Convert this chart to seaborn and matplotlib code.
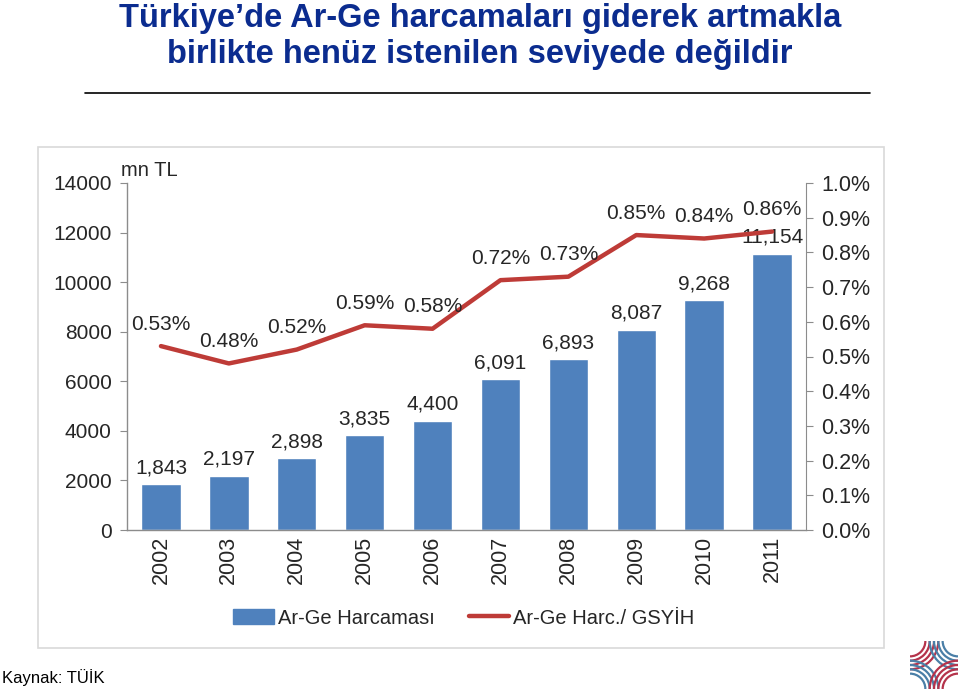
import numpy as np
import pandas as pd
import matplotlib
matplotlib.use("Agg")
import matplotlib.pyplot as plt
from matplotlib.patches import Arc, Rectangle
from matplotlib.lines import Line2D
import seaborn as sns

years = ["2002", "2003", "2004", "2005", "2006", "2007", "2008", "2009", "2010", "2011"]
spending = [1843, 2197, 2898, 3835, 4400, 6091, 6893, 8087, 9268, 11154]
spending_labels = ["1,843", "2,197", "2,898", "3,835", "4,400", "6,091", "6,893", "8,087", "9,268", "11,154"]
ratio = [0.53, 0.48, 0.52, 0.59, 0.58, 0.72, 0.73, 0.85, 0.84, 0.86]
left_ticks = [0, 2000, 4000, 6000, 8000, 10000, 12000, 14000]
right_ticks = [0.0, 0.1, 0.2, 0.3, 0.4, 0.5, 0.6, 0.7, 0.8, 0.9, 1.0]

sns.set_style("white")
plt.rcParams['font.family'] = ['Liberation Sans', 'DejaVu Sans']

BAR = "#4F81BD"
LINE = "#BE3B37"
TXT = "#262626"
GRAY = "#8C8C8C"
FS = 15

fig = plt.figure(figsize=(9.6, 6.9), dpi=100)

# title
fig.text(0.5, 1 - 18 / 690, "Türkiye’de Ar-Ge harcamaları giderek artmakla", ha="center", va="center",
         fontsize=23.5, fontweight="bold", color="#0B2C8F")
fig.text(0.5, 1 - 54 / 690, "birlikte henüz istenilen seviyede değildir", ha="center", va="center",
         fontsize=23.5, fontweight="bold", color="#0B2C8F")
fig.add_artist(Line2D([85 / 960, 870 / 960], [1 - 93 / 690, 1 - 93 / 690], color="black", lw=1.2))

# panel border
fig.add_artist(Rectangle((38 / 960, 1 - 648 / 690), (884 - 38) / 960, (648 - 147) / 690,
                         transform=fig.transFigure, fill=False, ec="#D9D9D9", lw=1.2))

ax = fig.add_axes([127 / 960, 1 - 530 / 690, (806 - 127) / 960, (530 - 183) / 690])
df = pd.DataFrame({"year": years, "spending": spending})
sns.barplot(data=df, x="year", y="spending", color=BAR, saturation=1, width=0.58, ax=ax, zorder=2)
ax.set_xlim(-0.5, 9.5)
ax.set_ylim(0, 14000)
ax.set_yticks(left_ticks)
ax.set_yticklabels([str(v) for v in left_ticks], fontsize=FS, color=TXT)
ax.set_xticks(range(len(years)))
ax.set_xticklabels(years, rotation=90, fontsize=15.5, color=TXT)
ax.tick_params(axis="x", length=0, pad=4)
ax.set_xticks(np.arange(-0.5, 10.5, 1), minor=True)
ax.tick_params(axis="x", which="minor", length=5, color=GRAY, direction="out")
ax.tick_params(axis="y", length=5, color=GRAY, direction="out", pad=6, left=True)
ax.set_xlabel("")
ax.set_ylabel("")
for s in ["top", "right"]:
    ax.spines[s].set_visible(False)
for s in ["left", "bottom"]:
    ax.spines[s].set_color(GRAY)
    ax.spines[s].set_linewidth(1)
for i, (v, lab) in enumerate(zip(spending, spending_labels)):
    ax.annotate(lab, (i, v), xytext=(0, 5), textcoords="offset points", ha="center", va="bottom",
                fontsize=FS, color=TXT, zorder=5)
fig.text(121 / 960, 1 - 171 / 690, "mn TL", ha="left", va="center", fontsize=14.5, color=TXT)

ax2 = ax.twinx()
sns.lineplot(x=np.arange(len(years)), y=ratio, color=LINE, lw=3.2, ax=ax2, zorder=4)
ax2.set_ylim(0, 1.0)
ax2.set_yticks(right_ticks)
ax2.set_yticklabels([f"{v:.1f}%" for v in right_ticks], fontsize=15.5, color=TXT)
ax2.tick_params(axis="y", length=5, color=GRAY, direction="out", pad=6, right=True)
for s in ["top", "left", "bottom"]:
    ax2.spines[s].set_visible(False)
ax2.spines["right"].set_color(GRAY)
ax2.set_xlim(-0.5, 9.5)
for i, v in enumerate(ratio):
    ax2.annotate(f"{v:.2f}%", (i, v), xytext=(0, 9), textcoords="offset points", ha="center",
                 va="bottom", fontsize=FS, color=TXT, zorder=6)

# legend
handles = [Rectangle((0, 0), 1, 1, color=BAR), Line2D([0], [0], color=LINE, lw=3.2)]
fig.legend(handles, ["Ar-Ge Harcaması", "Ar-Ge Harc./ GSYİH"], loc="center",
           bbox_to_anchor=(0.483, 1 - 618 / 690), ncol=2, frameon=False, fontsize=14.5,
           handlelength=2.0, handletextpad=0.2, columnspacing=1.7, labelcolor=TXT)

fig.text(2 / 960, 1 - 678 / 690, "Kaynak: TÜİK", ha="left", va="center", fontsize=12, color="black")

# logo
lax = fig.add_axes([910 / 960, 1 - 689 / 690, 48 / 960, 48 / 690])
lax.set_xlim(0, 1)
lax.set_ylim(0, 1)
lax.axis("off")
red = "#B5334B"
blue = "#4A7FA7"
for (cx, cy, t1, t2, col) in [(0, 1, 270, 360, red), (1, 1, 180, 270, blue),
                              (0, 0, 0, 90, blue), (1, 0, 90, 180, red)]:
    for r in [0.32, 0.41, 0.50, 0.59]:
        lax.add_patch(Arc((cx, cy), 2 * r, 2 * r, theta1=t1, theta2=t2, color=col, lw=1.6))

fig.savefig("out.png", dpi=100)
